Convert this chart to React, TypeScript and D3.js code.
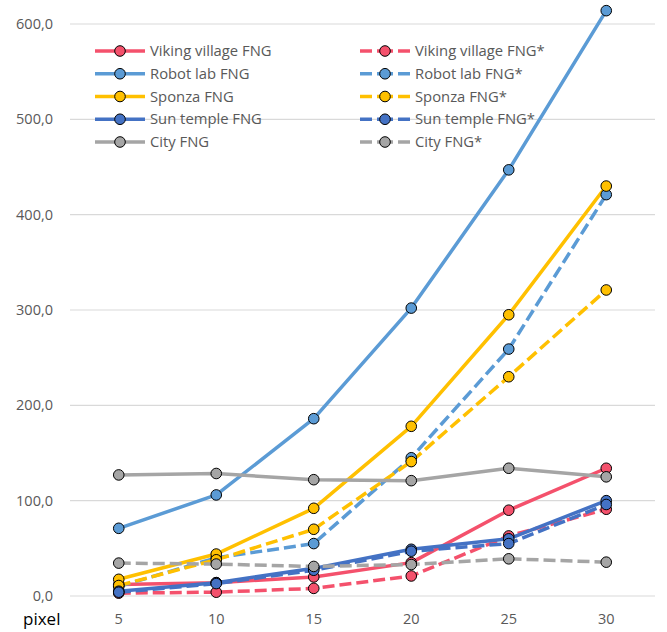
import React from 'react';
import * as d3 from 'd3';

const pixels = ['5', '10', '15', '20', '25', '30'];
const yTicks = [0, 100, 200, 300, 400, 500, 600];

const vikingFng = [12, 14, 20, 35, 90, 134];
const vikingFngStar = [3, 4, 8, 21, 63, 91];
const robotFng = [71, 106, 186, 302, 447, 614];
const robotFngStar = [10, 40, 55, 145, 259, 421];
const sponzaFng = [17.5, 44, 92, 178, 295, 430];
const sponzaFngStar = [11, 38, 70, 141, 230, 321];
const sunFng = [5, 14, 29, 49, 60, 100];
const sunFngStar = [4, 13, 27, 47, 55, 96];
const cityFng = [127, 128.5, 122, 121, 134, 125];
const cityFngStar = [34.5, 33.5, 31, 33, 39, 35.5];

interface Series {
  name: string;
  values: number[];
  color: string;
  dashed: boolean;
}

const series: Series[] = [
  { name: 'Viking village FNG', values: vikingFng, color: '#F4516C', dashed: false },
  { name: 'Viking village FNG*', values: vikingFngStar, color: '#F4516C', dashed: true },
  { name: 'Robot lab FNG', values: robotFng, color: '#5B9BD5', dashed: false },
  { name: 'Robot lab FNG*', values: robotFngStar, color: '#5B9BD5', dashed: true },
  { name: 'Sponza FNG', values: sponzaFng, color: '#FFC000', dashed: false },
  { name: 'Sponza FNG*', values: sponzaFngStar, color: '#FFC000', dashed: true },
  { name: 'Sun temple FNG', values: sunFng, color: '#4472C4', dashed: false },
  { name: 'Sun temple FNG*', values: sunFngStar, color: '#4472C4', dashed: true },
  { name: 'City FNG', values: cityFng, color: '#A5A5A5', dashed: false },
  { name: 'City FNG*', values: cityFngStar, color: '#A5A5A5', dashed: true },
];

const W = 667;
const H = 632;
const FONT = "'Open Sans', sans-serif";

export default function App() {
  const x = d3.scaleBand<string>().domain(pixels).range([70, 655]);
  const y = d3.scaleLinear().domain([0, 600]).range([596, 24]);
  const cx = (p: string) => (x(p) as number) + x.bandwidth() / 2;

  const line = d3
    .line<number>()
    .x((_, i) => cx(pixels[i]))
    .y((v) => y(v));

  return (
    <div style={{ position: 'absolute', left: 0, top: 0, background: '#fff' }}>
      <svg width={W} height={H} style={{ display: 'block', fontFamily: FONT }}>
        <rect width={W} height={H} fill="#fff" />
        {/* grid + y labels */}
        {yTicks.map((t) => (
          <g key={t}>
            <line x1={70} x2={655} y1={y(t)} y2={y(t)} stroke="#D9D9D9" strokeWidth={1.2} />
            <text x={53} y={y(t)} dy="0.35em" textAnchor="end" fontSize={14.5} fill="#595959">
              {d3.format('.1f')(t).replace('.', ',')}
            </text>
          </g>
        ))}
        {/* x labels */}
        {pixels.map((p) => (
          <text key={p} x={cx(p)} y={624} textAnchor="middle" fontSize={14.5} fill="#595959">
            {p}
          </text>
        ))}
        <text x={23} y={625} fontSize={17} fill="#000">
          pixel
        </text>

        {/* lines */}
        {series.map((s) => (
          <path
            key={s.name}
            d={line(s.values) || ''}
            fill="none"
            stroke={s.color}
            strokeWidth={3.5}
            strokeDasharray={s.dashed ? '12,5' : undefined}
            strokeLinejoin="round"
          />
        ))}
        {/* markers */}
        {series.map((s) =>
          s.values.map((v, i) => (
            <circle
              key={s.name + i}
              cx={cx(pixels[i])}
              cy={y(v)}
              r={5.3}
              fill={s.color}
              stroke="#000"
              strokeWidth={1}
            />
          ))
        )}

        {/* legend */}
        {series.map((s, i) => {
          const col = i % 2;
          const row = Math.floor(i / 2);
          const ly = 51 + row * 22.75;
          const x0 = col === 0 ? 95 : 360;
          const mx = col === 0 ? 120 : 385;
          const tx = col === 0 ? 150 : 415;
          return (
            <g key={'lg' + s.name}>
              {s.dashed ? (
                <>
                  <line x1={x0} x2={x0 + 12} y1={ly} y2={ly} stroke={s.color} strokeWidth={3.5} />
                  <line x1={x0 + 17} x2={x0 + 33} y1={ly} y2={ly} stroke={s.color} strokeWidth={3.5} />
                  <line x1={x0 + 38} x2={x0 + 50} y1={ly} y2={ly} stroke={s.color} strokeWidth={3.5} />
                </>
              ) : (
                <line x1={x0} x2={x0 + 50} y1={ly} y2={ly} stroke={s.color} strokeWidth={3.5} />
              )}
              <circle cx={mx} cy={ly} r={5.3} fill={s.color} stroke="#000" strokeWidth={1} />
              <text x={tx} y={ly} dy="0.35em" fontSize={14.8} fill="#595959">
                {s.name}
              </text>
            </g>
          );
        })}
      </svg>
    </div>
  );
}
